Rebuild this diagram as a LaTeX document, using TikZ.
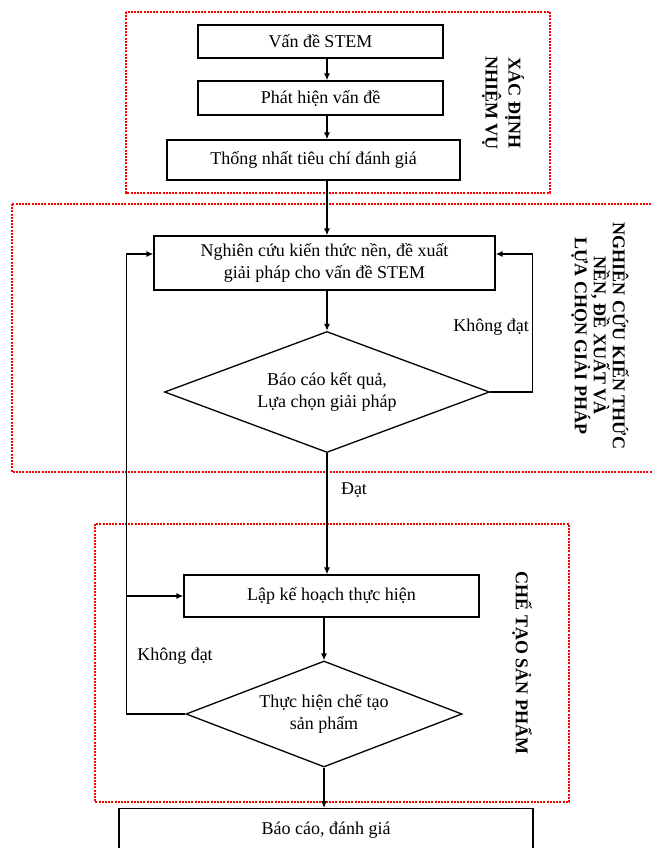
\documentclass[tikz,border=0pt]{standalone}
\usepackage{fontspec}
\setmainfont{Liberation Serif}
\usetikzlibrary{shapes.geometric,arrows.meta}
\begin{document}
\begin{tikzpicture}[x=1pt,y=-1pt,
  box/.style={draw,line width=1.3pt,inner sep=0pt,font=\fontsize{18}{22}\selectfont,align=center},
  dec/.style={draw,diamond,line width=1.3pt,inner sep=0pt,font=\fontsize{18}{22}\selectfont,align=center},
  frame/.style={draw=red,line width=1.3pt,dash pattern=on 2pt off 1.2pt},
  arr/.style={line width=1.3pt,-{Latex[length=7pt,width=6pt]}},
  lab/.style={font=\fontsize{18}{22}\selectfont,inner sep=0pt},
  side/.style={font=\bfseries\fontsize{18}{19}\selectfont,align=center,rotate=-90,inner sep=0pt}]
\clip (0,0) rectangle (652,848);
\fill[white] (0,0) rectangle (652,848);
\draw[frame] (126,12) rectangle (550,193);
\draw[frame] (12,204) rectangle (670,472);
\draw[frame] (95,524) rectangle (569,802);
\coordinate (fx) at (327,0);
\node[box,minimum width=245,minimum height=33] (b1) at (320.5,41.5) {Vấn đề STEM};
\node[box,minimum width=245,minimum height=34] (b2) at (320.5,98) {Phát hiện vấn đề};
\node[box,minimum width=293,minimum height=40] (b3) at (313.5,160) {Thống nhất tiêu chí đánh giá};
\node[box,minimum width=341,minimum height=54] (b4) at (324.5,263) {Nghiên cứu kiến thức nền, đề xuất\\giải pháp cho vấn đề STEM};
\node[dec,minimum width=325,minimum height=121,aspect=2.7] (d1) at (327,392) {Báo cáo kết quả,\\Lựa chọn giải pháp};
\node[box,minimum width=295,minimum height=42] (b5) at (331.5,596) {Lập kế hoạch thực hiện};
\node[dec,minimum width=276,minimum height=106,aspect=2.6] (d2) at (324,714) {Thực hiện chế tạo\\sản phẩm};
\node[box,anchor=north,minimum width=414,inner ysep=13pt,text depth=50pt] (b6) at (326,808) {Báo cáo, đánh giá};

\node[side,font=\bfseries\fontsize{18}{23}\selectfont] (s1) at (503,103) {XÁC ĐỊNH\\NHIỆM VỤ};
\node[side] (s2) at (600,336) {NGHIÊN CỨU KIẾN THỨC\\NỀN, ĐỀ XUẤT VÀ\\LỰA CHỌN GIẢI PHÁP};
\node[side] (s3) at (522,663) {CHẾ TẠO SẢN PHẨM};

\node[lab] (k1) at (491,327) {Không đạt};
\node[lab] (k2) at (175,656) {Không đạt};
\node[lab] (dat) at (354,490) {Đạt};

\draw[arr] (b1.south -| fx) -- (b2.north -| fx);
\draw[arr] (b2.south -| fx) -- (b3.north -| fx);
\draw[arr] (b3.south -| fx) -- (b4.north -| fx);
\draw[arr] (b4.south -| fx) -- (d1.north);
\draw[arr] (d1.south) -- (b5.north -| d1.south);
\draw[arr] (b5.south -| d2.north) -- (d2.north);
\draw[arr] (d2.south) -- (b6.north -| d2.south);
\draw[arr] (d1.east) -- ++(42,0) |- ([yshift=9pt]b4.east);
\draw[arr] (d2.west) -- ++(-59,0) |- ([yshift=9pt]b4.west);
\coordinate (jn) at (127,596);
\draw[arr] (jn) -- (b5.west);
\end{tikzpicture}
\end{document}
